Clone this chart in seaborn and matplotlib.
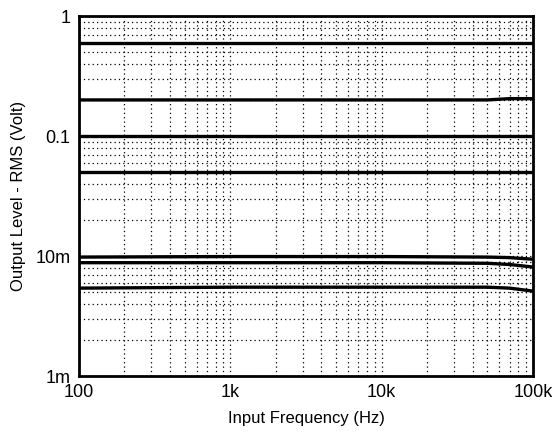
import numpy as np
import pandas as pd
import matplotlib
matplotlib.use("Agg")
import matplotlib.pyplot as plt
import matplotlib.ticker as mticker
import seaborn as sns

# ---- data ----
freq = [100, 1000, 10000, 50000, 70000, 100000]
s1 = [0.60, 0.60, 0.60, 0.60, 0.60, 0.60]
s2 = [0.200, 0.200, 0.200, 0.200, 0.205, 0.205]
s3 = [0.100, 0.100, 0.100, 0.100, 0.100, 0.100]
s4 = [0.050, 0.050, 0.050, 0.050, 0.050, 0.050]
s5 = [0.0098, 0.0099, 0.0099, 0.0098, 0.0097, 0.0094]
s6 = [0.0088, 0.0088, 0.0088, 0.0087, 0.0085, 0.0081]
s7 = [0.0054, 0.0055, 0.0055, 0.0055, 0.0054, 0.0051]
series = {"s1": s1, "s2": s2, "s3": s3, "s4": s4, "s5": s5, "s6": s6, "s7": s7}

x_ticks = [100, 1000, 10000, 100000]
x_labels = ["100", "1k", "10k", "100k"]
y_ticks = [0.001, 0.01, 0.1, 1]
y_labels = ["1m", "10m", "0.1", "1"]

rows = []
for name, vals in series.items():
    for f, v in zip(freq, vals):
        rows.append({"freq": f, "level": v, "series": name})
df = pd.DataFrame(rows)

sns.set_style("white")
plt.rcParams["font.family"] = ["Liberation Sans Narrow", "Liberation Sans", "DejaVu Sans"]

fig = plt.figure(figsize=(5.52, 4.34), dpi=100)
ax = fig.add_axes([0.143, 0.1336, 0.8226, 0.8294])

sns.lineplot(data=df, x="freq", y="level", units="series", estimator=None,
             color="black", linewidth=2.4, ax=ax, legend=False)

ax.set_xscale("log")
ax.set_yscale("log")
ax.set_xlim(100, 100000)
ax.set_ylim(0.001, 1)

ax.xaxis.set_major_locator(mticker.FixedLocator(x_ticks))
ax.xaxis.set_major_formatter(mticker.FixedFormatter(x_labels))
ax.yaxis.set_major_locator(mticker.FixedLocator(y_ticks))
ax.yaxis.set_major_formatter(mticker.FixedFormatter(y_labels))
ax.xaxis.set_minor_locator(mticker.LogLocator(base=10, subs=np.arange(2, 10)))
ax.yaxis.set_minor_locator(mticker.LogLocator(base=10, subs=np.arange(2, 10)))
ax.xaxis.set_minor_formatter(mticker.NullFormatter())
ax.yaxis.set_minor_formatter(mticker.NullFormatter())

ax.grid(True, which="both", linestyle=(0, (1, 2.5)), color="black", linewidth=0.9)
ax.tick_params(which="both", length=0, labelsize=13, colors="black", pad=6)

for sp in ax.spines.values():
    sp.set_color("black")
    sp.set_linewidth(2)

ax.set_xlabel("Input Frequency (Hz)", fontsize=12, color="black", labelpad=7)
ax.set_ylabel("Output Level - RMS (Volt)", fontsize=12, color="black", labelpad=7)

fig.savefig("out.png", dpi=100, facecolor="white")
